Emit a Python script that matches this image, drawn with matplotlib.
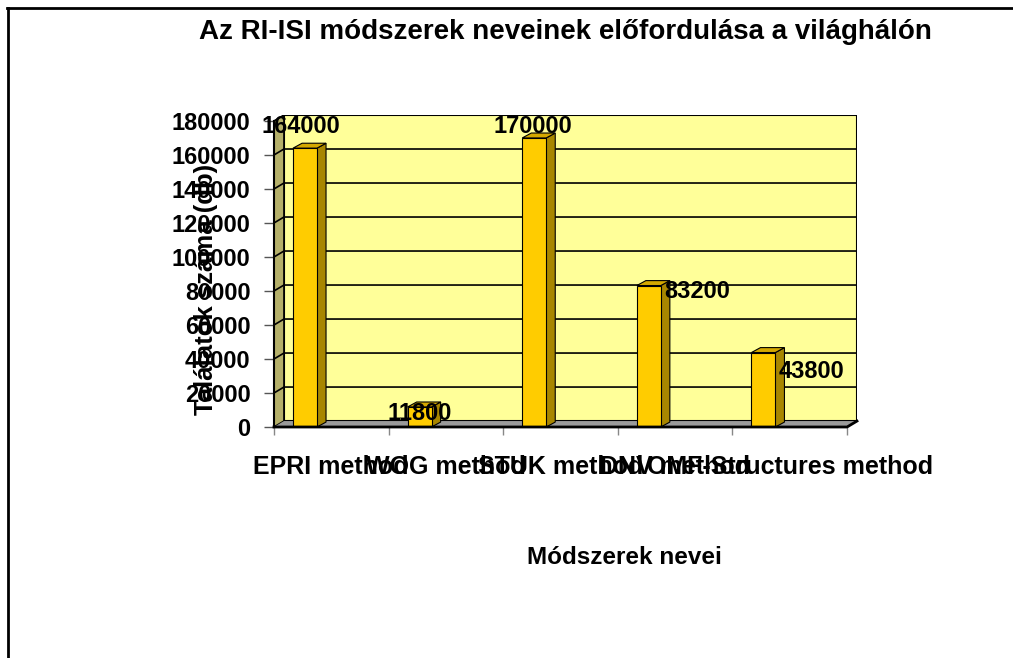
import numpy as np
import matplotlib.pyplot as plt
from matplotlib.patches import Polygon, Rectangle
from matplotlib.lines import Line2D

plt.rcParams['font.family'] = ['Liberation Sans', 'DejaVu Sans']
plt.rcParams['font.weight'] = 'bold'

categories = ["EPRI method", "WOG method", "STUK method", "DNV method",
              "OMF-Structures method"]
hits = [164000, 11800, 170000, 83200, 43800]
y_ticks = np.arange(0, 180001, 20000)

# Excel puts the 3D data labels in odd places, offsets in pixels
label_offsets = [(-4, 22), (0, -7), (-1, 11), (48, -6), (48, -19)]

W, H = 1013, 658
DX, DY = 0.087, 3500        # wall depth (category units, value units)
BDX, BDY = 0.079, 2900      # bar depth

fig = plt.figure(figsize=(W / 100, H / 100), dpi=100)
ax = fig.add_axes([274 / W, (H - 427) / H, 583 / W, 312 / H])
ax.set_xlim(0, 5 + DX)
ax.set_ylim(0, 180000 + DY)
for s in ax.spines.values():
    s.set_visible(False)

# walls and floor
ax.add_patch(Rectangle((DX, DY), 5, 180000, facecolor="#FFFF99",
                       edgecolor="black", lw=1.5, zorder=1))
ax.add_patch(Polygon([(0, 0), (DX, DY), (DX, 180000 + DY), (0, 180000)],
                     facecolor="#B5B06A", edgecolor="black", lw=1.2, zorder=1))
ax.add_patch(Polygon([(0, 0), (5, 0), (5 + DX, DY), (DX, DY)],
                     facecolor="#9A9A9A", edgecolor="none", zorder=1))
for y in y_ticks[1:-1]:
    ax.plot([0, DX, 5 + DX], [y, y + DY, y + DY], color="black", lw=1.2, zorder=2)

# bars
for i, v in enumerate(hits):
    x0, x1 = i + 0.166, i + 0.375
    ax.add_patch(Polygon([(x1, 0), (x1 + BDX, BDY), (x1 + BDX, v + BDY), (x1, v)],
                         facecolor="#A88600", edgecolor="black", lw=0.8, zorder=3))
    ax.add_patch(Polygon([(x0, v), (x1, v), (x1 + BDX, v + BDY), (x0 + BDX, v + BDY)],
                         facecolor="#D4A800", edgecolor="black", lw=0.8, zorder=3))
    ax.add_patch(Rectangle((x0, 0), x1 - x0, v, facecolor="#FFCC00",
                           edgecolor="black", lw=0.8, zorder=4))
    ax.annotate(f"{v}", ((x0 + x1) / 2, v), xytext=label_offsets[i],
                textcoords="offset pixels", ha="center", va="center",
                fontsize=17, fontweight="bold", zorder=6, annotation_clip=False)

# front axis lines
ax.plot([0, 5, 5 + DX], [0, 0, DY], color="black", lw=2, zorder=5, clip_on=False)
ax.plot([0, 0], [0, 180000], color="black", lw=1.5, zorder=5, clip_on=False)

ax.set_yticks(y_ticks)
ax.set_yticklabels([str(t) for t in y_ticks], fontsize=17, fontweight="bold")
ax.tick_params(axis="y", length=7, width=1, color="#555555", pad=10)
ax.set_xticks(range(6))
ax.set_xticklabels([""] * 6)
ax.tick_params(axis="x", which="major", length=6, width=1, color="#888888")
ax.set_xticks(np.arange(5) + 0.5, minor=True)
ax.set_xticklabels(categories, minor=True, fontsize=18, fontweight="bold")
ax.tick_params(axis="x", which="minor", length=0, pad=20)

fig.text(565 / W, 1 - 32 / H, "Az RI-ISI módszerek neveinek előfordulása a világhálón",
         ha="center", va="center", fontsize=20, fontweight="bold")
fig.text(206 / W, 1 - 289 / H, "Találatok száma (db)", rotation=90,
         ha="center", va="center", fontsize=18.5, fontweight="bold")
fig.text(624 / W, 1 - 557 / H, "Módszerek nevei", ha="center", va="center",
         fontsize=17.5, fontweight="bold")

# chart border (only left and top fall inside the picture)
fig.add_artist(Line2D([7.5 / W, 7.5 / W], [0, 1 - 8 / H], color="black", lw=2))
fig.add_artist(Line2D([7 / W, 1], [1 - 8 / H, 1 - 8 / H], color="black", lw=2))

fig.savefig("out.png", dpi=100)
